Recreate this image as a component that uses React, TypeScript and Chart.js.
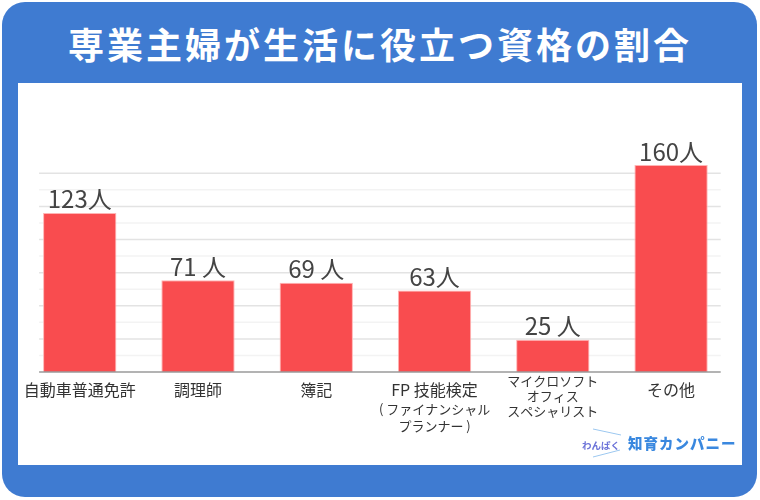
import React, { useEffect, useRef } from "react";
import { Chart, registerables } from "chart.js";

Chart.register(...registerables);

const titleText = "専業主婦が生活に役立つ資格の割合";
const categories = [
  ["自動車普通免許"],
  ["調理師"],
  ["簿記"],
  ["FP 技能検定"],
  ["マイクロソフト", "オフィス", "スペシャリスト"],
  ["その他"],
];
const subLabels = [[], [], [], ["( ファイナンシャル", "プランナー )"], [], []];
const values = [123, 71, 69, 63, 25, 160];
const valueSuffixes = ["人", " 人", " 人", "人", " 人", "人"];
const axisMax = 153.6;
const gridCount = 13;

const FONT = "'Noto Sans CJK JP', 'Noto Sans', sans-serif";
const BLUE = "#3F7BD1";

const gridPlugin = {
  id: "customGrid",
  beforeDatasetsDraw(chart: any) {
    const { ctx, chartArea } = chart;
    const y = chart.scales.y;
    const x0 = chartArea.left + 18.5;
    const x1 = chartArea.right - 9.5;
    ctx.save();
    y.ticks.forEach((_t: any, i: number) => {
      if (i === 0) return;
      const py = y.getPixelForTick(i);
      ctx.strokeStyle = i % 2 === 0 ? "#e3e3e3" : "#f3f3f3";
      ctx.lineWidth = 1.5;
      ctx.beginPath();
      ctx.moveTo(x0, py);
      ctx.lineTo(x1, py);
      ctx.stroke();
    });
    ctx.restore();
  },
  afterDatasetsDraw(chart: any) {
    const { ctx, chartArea } = chart;
    const x0 = chartArea.left + 18.5;
    const x1 = chartArea.right - 9.5;
    ctx.save();
    ctx.strokeStyle = "#9a9a9a";
    ctx.lineWidth = 1.5;
    ctx.beginPath();
    ctx.moveTo(x0, chartArea.bottom);
    ctx.lineTo(x1, chartArea.bottom);
    ctx.stroke();

    // value labels
    const meta = chart.getDatasetMeta(0);
    ctx.fillStyle = "#444";
    ctx.font = `24px ${FONT}`;
    ctx.textAlign = "center";
    ctx.textBaseline = "alphabetic";
    meta.data.forEach((bar: any, i: number) => {
      ctx.fillText(String(values[i]) + valueSuffixes[i], bar.x, bar.y - 4.5);
    });

    // secondary label lines
    const xs = chart.scales.x;
    ctx.font = `13px ${FONT}`;
    ctx.fillStyle = "#333";
    ctx.textBaseline = "middle";
    subLabels.forEach((lines, i) => {
      const px = xs.getPixelForValue(i);
      lines.forEach((ln, j) => {
        ctx.fillText(ln, px, chartArea.bottom + 37.5 + j * 17);
      });
    });
    ctx.restore();
  },
};

function ChartCanvas() {
  const ref = useRef<HTMLCanvasElement | null>(null);
  useEffect(() => {
    if (!ref.current) return;
    const chart = new Chart(ref.current, {
      type: "bar",
      data: {
        labels: categories,
        datasets: [
          {
            data: values,
            backgroundColor: "#F94C4F",
            borderColor: "#FFB4B4",
            borderWidth: 1,
            barPercentage: 0.62,
            categoryPercentage: 1,
            clip: false as any,
          },
        ],
      },
      options: {
        responsive: false,
        animation: false,
        devicePixelRatio: 1,
        layout: { padding: { left: 20.6, right: 29.8, top: 173.3, bottom: 0 } },
        plugins: { legend: { display: false }, tooltip: { enabled: false } },
        scales: {
          x: {
            grid: { display: false, drawTicks: false },
            border: { display: false },
            afterFit: (s: any) => {
              s.height = 128;
            },
            ticks: {
              autoSkip: false,
              maxRotation: 0,
              minRotation: 0,
              padding: 2,
              color: "#333",
              font: (c: any) =>
                c.index === 4
                  ? { family: FONT, size: 13, lineHeight: "15px" }
                  : { family: FONT, size: 16, lineHeight: "32px" },
            },
          },
          y: {
            min: 0,
            max: axisMax,
            grid: { display: false, drawTicks: false },
            border: { display: false },
            ticks: { display: false, count: gridCount },
            afterFit: (s: any) => {
              s.width = 0;
            },
          },
        },
      },
      plugins: [gridPlugin],
    });
    return () => chart.destroy();
  }, []);
  return (
    <canvas
      ref={ref}
      width={760}
      height={500}
      style={{ position: "absolute", left: 0, top: 0, width: 760, height: 500 }}
    />
  );
}

export default function App() {
  return (
    <div
      style={{
        position: "absolute",
        left: 0,
        top: 0,
        width: 760,
        height: 500,
        background: "#fff",
        overflow: "hidden",
        fontFamily: FONT,
      }}
    >
      <div
        style={{
          position: "absolute",
          left: 2,
          top: 2,
          width: 755,
          height: 495,
          borderRadius: 23,
          background: BLUE,
        }}
      />
      <div
        style={{
          position: "absolute",
          left: 17.5,
          top: 83,
          width: 724,
          height: 381.5,
          background: "#fff",
        }}
      />
      <div
        style={{
          position: "absolute",
          left: 0,
          top: 18,
          width: 760,
          height: 50,
          lineHeight: "50px",
          textAlign: "center",
          color: "#fff",
          fontSize: 36,
          fontWeight: 700,
          letterSpacing: 3,
          whiteSpace: "nowrap",
        }}
      >
        {titleText}
      </div>
      <ChartCanvas />
      <svg
        width={760}
        height={500}
        style={{ position: "absolute", left: 0, top: 0, pointerEvents: "none" }}
      >
        <line x1={593} y1={429} x2={621} y2={435} stroke="#9CC8F0" strokeWidth={1} />
        <line x1={593} y1={457} x2={620} y2={450} stroke="#9CC8F0" strokeWidth={1} />
      </svg>
      <div
        style={{
          position: "absolute",
          left: 582,
          top: 435,
          height: 20,
          lineHeight: "20px",
          fontSize: 9.5,
          fontWeight: 700,
          color: "#6C73D8",
          whiteSpace: "nowrap",
        }}
      >
        わんぱく
      </div>
      <div
        style={{
          position: "absolute",
          left: 628,
          top: 432,
          height: 22,
          lineHeight: "22px",
          fontSize: 14.5,
          fontWeight: 900,
          letterSpacing: 1,
          color: "#3A88DF",
          whiteSpace: "nowrap",
        }}
      >
        知育カンパニー
      </div>
    </div>
  );
}
